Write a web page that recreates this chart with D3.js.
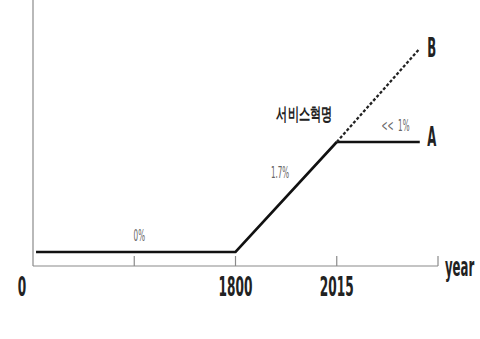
<!DOCTYPE html>
<html>
<head>
<meta charset="utf-8">
<script src="https://cdn.jsdelivr.net/npm/d3@7"></script>
<style>
  body { margin: 0; background: #fff; }
  svg { display: block; }
</style>
</head>
<body>
<script>
// stage positions on the (non-proportional) time axis
const tickPos = [1, 2, 3, 4]
const tickLabels = ["0", "", "1800", "2015", ""]
// main path: flat until 1800, rising until 2015
const basePath = [[0.03, 0], [2, 0], [3, 1]]
// scenario A: flat after 2015, scenario B: keeps rising
const pathA = [[3, 1], [3.82, 1]]
const pathB = [[3, 1], [3.82, 1.85]]
const annotations = [
  {x: 1.05, y: 0.1, text: "0%"},
  {x: 2.44, y: 0.67, text: "1.7%"},
  {x: 2.68, y: 1.2, text: "서비스혁명"},
  {x: 3.58, y: 1.1, text: "<<  1%"}
]

const width = 480, height = 339
const marginLeft = 33, axisY = 266, axisRight = 438

const x = d3.scaleLinear([0, 4], [marginLeft, axisRight])
const y = d3.scaleLinear([0, 1], [252, 142])

const svg = d3.select("body").append("svg")
  .attr("width", width)
  .attr("height", height)
  .attr("viewBox", [0, 0, width, height])

// axes
const axis = svg.append("g").attr("stroke", "#8a8a8a").attr("stroke-width", 1.2).attr("fill", "none")
axis.append("line").attr("x1", marginLeft).attr("x2", marginLeft).attr("y1", 0).attr("y2", axisY)
axis.append("line").attr("x1", marginLeft).attr("x2", axisRight).attr("y1", axisY).attr("y2", axisY)
axis.selectAll(".tick")
  .data(tickPos)
  .join("line")
  .attr("x1", d => x(d)).attr("x2", d => x(d))
  .attr("y1", axisY - 10).attr("y2", axisY)

// condensed text helper
function label(g, px, py, txt, size, sx, opts = {}) {
  return g.append("text")
    .attr("transform", `translate(${px},${py}) scale(${sx},1)`)
    .attr("text-anchor", opts.anchor || "middle")
    .attr("font-family", "'DejaVu Sans Condensed', 'Liberation Sans Narrow', sans-serif")
    .attr("font-weight", opts.weight || "bold")
    .attr("font-size", size)
    .attr("fill", opts.fill || "#222")
    .attr("xml:space", "preserve")
    .style("white-space", "pre")
    .text(txt)
}

const labels = svg.append("g")
tickLabels.forEach((t, i) => {
  if (!t) return
  const px = i === 0 ? 22 : x(i)
  label(labels, px, 296, t, 26, 0.52)
})
label(labels, 445, 276, "year", 26, 0.5, {anchor: "start"})

// lines
const line = d3.line().x(d => x(d[0])).y(d => y(d[1]))
svg.append("path").attr("d", line(basePath))
  .attr("fill", "none").attr("stroke", "#111").attr("stroke-width", 2.6)
svg.append("path").attr("d", line(pathA))
  .attr("fill", "none").attr("stroke", "#111").attr("stroke-width", 2.6)
svg.append("path").attr("d", line(pathB))
  .attr("fill", "none").attr("stroke", "#222").attr("stroke-width", 2.3)
  .attr("stroke-dasharray", "3,2")

label(labels, x(pathB[1][0]) + 12, y(pathB[1][1]) + 8, "B", 26, 0.5)
label(labels, x(pathA[1][0]) + 12, y(pathA[1][1]) + 4, "A", 26, 0.5)

// annotations
annotations.forEach(a => {
  const isKo = a.text === "서비스혁명"
  label(labels, x(a.x), y(a.y), a.text, isKo ? 18 : 16, isKo ? 0.62 : 0.5,
    {fill: isKo ? "#222" : "#666", weight: isKo ? "bold" : "normal"})
})
</script>
</body>
</html>
